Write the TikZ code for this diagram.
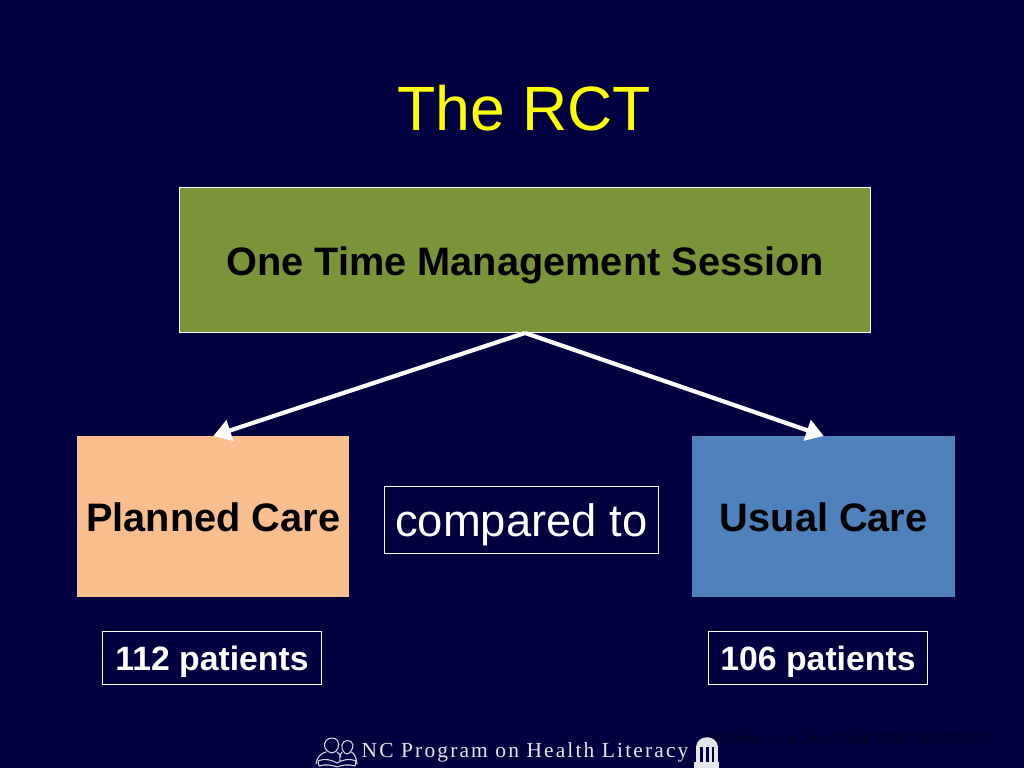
\documentclass[tikz,border=0pt]{standalone}
\usepackage{fontspec}
\setmainfont{Liberation Sans}
\newfontfamily\footfont[LetterSpace=10]{Liberation Serif}
\usetikzlibrary{arrows.meta}
\definecolor{slidebg}{RGB}{0,0,64}
\definecolor{titleyellow}{RGB}{255,255,0}
\definecolor{sessiongreen}{RGB}{122,148,58}
\definecolor{plannedorange}{RGB}{249,190,141}
\definecolor{usualblue}{RGB}{79,129,189}
\definecolor{citedark}{RGB}{0,0,32}
\newcommand{\lowered}[2]{\raisebox{-#1cm}[0pt][0pt]{#2}}
\tikzset{
  box/.style={draw=white, line width=0.25pt, inner sep=0pt, anchor=north west, align=center},
  boldlabel/.style={font=\fontsize{11.3}{13}\selectfont\bfseries},
  icon/.style={draw=white!85!slidebg, line width=0.3pt, line cap=round, line join=round}
}
\begin{document}
\begin{tikzpicture}[x=0.01cm, y=-0.01cm, >={Triangle[length=5pt,width=6pt]}]
    \fill[slidebg] (0,0) rectangle (1024,768);
    \useasboundingbox (0,0) rectangle (1024,768);

    \node (title) at (524,108.5) {\fontsize{17.8}{22}\selectfont\color{titleyellow}The RCT};

    \node[box, fill=sessiongreen, minimum width=6.91cm, minimum height=1.445cm, boldlabel] (session) at (179,187.5) {\lowered{0.15}{One Time Management Session}};
    \node[box, fill=plannedorange, draw=none, minimum width=2.715cm, minimum height=1.605cm, boldlabel] (planned) at (77,436) {\lowered{0.145}{Planned Care}};
    \node[box, fill=usualblue, draw=none, minimum width=2.625cm, minimum height=1.605cm, boldlabel] (usual) at (692,436) {\lowered{0.145}{Usual Care}};
    \node[box, fill=slidebg, text=white, minimum width=2.745cm, minimum height=0.665cm, font=\fontsize{12.9}{16}\selectfont] (compared) at (383.5,486) {\lowered{0.165}{compared to}};
    \node[box, fill=slidebg, text=white, minimum width=2.19cm, minimum height=0.53cm, font=\fontsize{9.6}{12}\selectfont\bfseries] (p112) at (102,631) {\lowered{0.125}{112 patients}};
    \node[box, fill=slidebg, text=white, minimum width=2.19cm, minimum height=0.53cm, font=\fontsize{9.6}{12}\selectfont\bfseries] (p106) at (708,631) {\lowered{0.125}{106 patients}};

    \draw[->, white, line width=1.2pt] (session.south) -- (planned.north);
    \draw[->, white, line width=1.2pt] (session.south) -- (usual.north);

    \node[anchor=west, inner sep=0pt, text=white!90!slidebg, font=\footfont\fontsize{6.1}{7}\selectfont] (footer) at (361,752.5) {NC Program on Health Literacy};
    \node[anchor=east, inner sep=0pt, text=citedark, font=\fontsize{4}{5}\selectfont] (cite) at (993,739) {Rothman et al., Am J Med 2005; 118:276-284};

    % readers
    \draw[icon] (325,748) .. controls (323,741) and (328,738) .. (332,738) .. controls (337,738) and (340,742) .. (338,748) .. controls (336,754) and (329,755) .. (325,748);
    \draw[icon] (326,752) .. controls (322,753) and (317,756) .. (316,764);
    \draw[icon] (337,752) .. controls (339,753) and (340,755) .. (341,757);
    \draw[icon] (342,745) .. controls (343,739) and (352,739) .. (353,745) .. controls (353,750) and (349,754) .. (347,754) .. controls (345,754) and (341,750) .. (342,745);
    \draw[icon] (351,752) .. controls (354,753) and (356,756) .. (357,764);
    \draw[icon] (342,752) .. controls (340,755) and (339,758) .. (340,761);
    \draw[icon] (318,761) .. controls (325,758) and (332,760) .. (337,763) .. controls (342,760) and (349,758) .. (356,761) -- (355,766) .. controls (349,764) and (342,765) .. (337,767) .. controls (332,765) and (325,764) .. (319,766) -- cycle;

    % old well
    \fill[white!90!slidebg] (696,747) .. controls (697,734) and (717,734) .. (718,747) -- cycle;
    \fill[white!90!slidebg] (694,762) rectangle (719,768);
    \foreach \xpos/\wid in {696/4,703/3,709/3,714/4}
        \fill[white!90!slidebg] (\xpos,747) rectangle ++(\wid,15);
\end{tikzpicture}
\end{document}
